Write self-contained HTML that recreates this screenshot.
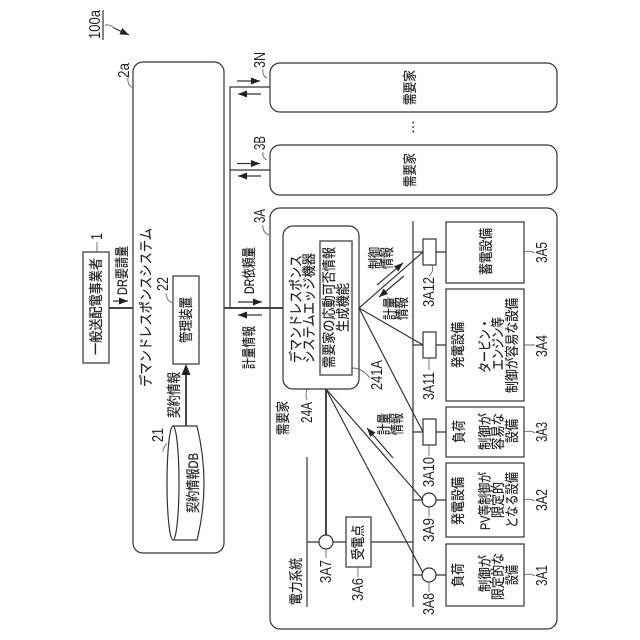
<!DOCTYPE html>
<html lang="ja"><head><meta charset="utf-8"><title>100a</title>
<style>
html,body{margin:0;padding:0;background:#fff;width:640px;height:640px;overflow:hidden}
svg{display:block}
text{font-family:"Liberation Sans","Noto Sans CJK JP",sans-serif;font-size:14px;fill:#222;stroke:#222;stroke-width:.2}
text.l{font-size:16px;stroke-width:0}
.s{fill:none;stroke:#333;stroke-width:1.2}
.t{fill:none;stroke:#444;stroke-width:2}
.f{fill:none;stroke:#666;stroke-width:.9}
</style></head><body>
<svg width="640" height="640" viewBox="0 0 640 640" xmlns="http://www.w3.org/2000/svg">
<defs><marker id="a" markerWidth="10" markerHeight="8" refX="9" refY="3.5" orient="auto" markerUnits="userSpaceOnUse"><path d="M0 0L9 3.5L0 7Z" fill="#222"/></marker></defs>

<!-- main boxes -->
<rect class="s" x="133" y="62" width="91" height="491" rx="10"/>
<rect class="s" x="270" y="63" width="287" height="49" rx="10"/>
<rect class="s" x="270" y="145" width="287" height="50" rx="10"/>
<rect class="s" x="270" y="208" width="287" height="421" rx="10"/>
<rect class="s" x="83" y="252" width="26" height="111" stroke-width="1.5"/>
<rect class="s" x="173" y="276" width="26" height="88" stroke-width="1.5"/>
<rect class="s" x="283" y="226" width="76" height="163" rx="10"/>
<rect class="s" x="320" y="241" width="32" height="134"/>

<!-- cylinder -->
<path class="s" d="M173 426H197Q204 455 204 483Q204 512 197 540H173"/>
<ellipse class="s" cx="173" cy="483" rx="6" ry="57"/>
<path class="t" d="M186 426V372"/>
<path d="M186 364L181.500 375H190.500Z" fill="#222"/>

<!-- connectors -->
<path class="s" d="M270 87H230V308M230 170H270"/>
<path class="t" d="M109 308H133M224 308H283M326 389V535"/>

<path class="s" d="M237 81H260" marker-end="url(#a)"/><path class="s" d="M261 94H238" marker-end="url(#a)"/>
<path class="s" d="M237 163.500H260" marker-end="url(#a)"/><path class="s" d="M261 176H238" marker-end="url(#a)"/>
<path class="s" d="M238 302H262" marker-end="url(#a)"/><path class="s" d="M262 315H238" marker-end="url(#a)"/>
<path class="s" d="M113 301H128" marker-end="url(#a)"/>

<!-- power lines -->
<path class="s" d="M307 457V607M307 542H319M333 542H346M371 542H413"/>
<path class="s" stroke-width="1.500" d="M413 221V607M413 252H423M436 252H446M413 345H423M436 345H446M413 432H423M436 432H446M413 500H422M436 500H446M413 575H422M436 575H446"/>
<circle class="s" cx="326" cy="542" r="7"/>
<circle class="s" cx="429" cy="500" r="7"/>
<circle class="s" cx="429" cy="575" r="7"/>
<rect class="s" x="346" y="517" width="25" height="50" stroke-width="1.500"/>
<rect class="s" x="423" y="239" width="13" height="26"/>
<rect class="s" x="423" y="332" width="13" height="26"/>
<rect class="s" x="423" y="419" width="13" height="26"/>
<rect class="s" x="446" y="222" width="78" height="61" stroke-width="1.500"/>
<rect class="s" x="446" y="289" width="78" height="112" stroke-width="1.500"/>
<rect class="s" x="446" y="407" width="78" height="50" stroke-width="1.500"/>
<rect class="s" x="446" y="463" width="78" height="74" stroke-width="1.500"/>
<rect class="s" x="446" y="544" width="78" height="62" stroke-width="1.500"/>

<!-- diagonals -->
<path class="s" d="M359 308L423 252M359 308L423 345M359 308L423 432M326 389L423 500M326 389L423 573"/>
<path class="s" d="M377 285L403 263" marker-end="url(#a)"/>
<path class="s" d="M404 276L379 297" marker-end="url(#a)"/>
<path class="s" d="M393 458L367 428" marker-end="url(#a)"/>

<!-- leaders -->
<path class="f" d="M105 25Q110 24 114 28"/><path class="s" d="M114 28L129 35" marker-end="url(#a)"/>
<path class="f" d="M134 88Q127 86 128 78M267 78Q262 76 263 69M267 160Q262 158 263 152M269 235Q262 232 263 225M97 252V242M173 303Q167 302 166 293M167 443Q163 448 163 452M352 368Q362 368 370 378M307 389Q305 395 307 400M326 549V558M358 567V577M432 265Q434 272 429 276M429 358V370M429 445V456M429 507V517M429 582V592M524 252Q530 250 535 253M524 345H535M524 432Q530 430 535 433M524 500Q530 498 535 501M524 575Q530 573 535 576"/>
<path class="s" d="M103 10V40"/>

<!-- Latin labels -->
<text class="l" transform="translate(100,39) rotate(-90)" textLength="29" lengthAdjust="spacingAndGlyphs">100a</text>
<text class="l" transform="translate(129,78) rotate(-90)" textLength="15" lengthAdjust="spacingAndGlyphs">2a</text>
<text class="l" transform="translate(265,68) rotate(-90)" textLength="16" lengthAdjust="spacingAndGlyphs">3N</text>
<text class="l" transform="translate(265,150) rotate(-90)" textLength="14" lengthAdjust="spacingAndGlyphs">3B</text>
<text class="l" transform="translate(265,223) rotate(-90)" textLength="14" lengthAdjust="spacingAndGlyphs">3A</text>
<text class="l" transform="translate(102,240) rotate(-90)" textLength="7" lengthAdjust="spacingAndGlyphs">1</text>
<text class="l" transform="translate(168,291) rotate(-90)" textLength="14" lengthAdjust="spacingAndGlyphs">22</text>
<text class="l" transform="translate(163,442) rotate(-90)" textLength="14" lengthAdjust="spacingAndGlyphs">21</text>
<text class="l" transform="translate(312,423) rotate(-90)" textLength="21" lengthAdjust="spacingAndGlyphs">24A</text>
<text class="l" transform="translate(382,390) rotate(-90)" textLength="30" lengthAdjust="spacingAndGlyphs">241A</text>
<text class="l" transform="translate(331,583) rotate(-90)" textLength="23" lengthAdjust="spacingAndGlyphs">3A7</text>
<text class="l" transform="translate(363,601) rotate(-90)" textLength="23" lengthAdjust="spacingAndGlyphs">3A6</text>
<text class="l" transform="translate(434,307) rotate(-90)" textLength="30" lengthAdjust="spacingAndGlyphs">3A12</text>
<text class="l" transform="translate(434,400) rotate(-90)" textLength="28" lengthAdjust="spacingAndGlyphs">3A11</text>
<text class="l" transform="translate(434,487) rotate(-90)" textLength="30" lengthAdjust="spacingAndGlyphs">3A10</text>
<text class="l" transform="translate(434,542) rotate(-90)" textLength="24" lengthAdjust="spacingAndGlyphs">3A9</text>
<text class="l" transform="translate(434,615) rotate(-90)" textLength="22" lengthAdjust="spacingAndGlyphs">3A8</text>
<text class="l" transform="translate(547,263) rotate(-90)" textLength="21" lengthAdjust="spacingAndGlyphs">3A5</text>
<text class="l" transform="translate(547,357) rotate(-90)" textLength="22" lengthAdjust="spacingAndGlyphs">3A4</text>
<text class="l" transform="translate(547,442) rotate(-90)" textLength="20" lengthAdjust="spacingAndGlyphs">3A3</text>
<text class="l" transform="translate(547,511) rotate(-90)" textLength="22" lengthAdjust="spacingAndGlyphs">3A2</text>
<text class="l" transform="translate(547,586) rotate(-90)" textLength="21" lengthAdjust="spacingAndGlyphs">3A1</text>

<!-- Japanese labels -->
<text transform="translate(101,355) rotate(-90)" textLength="97" lengthAdjust="spacingAndGlyphs">一般送配電事業者</text>
<text transform="translate(127,295) rotate(-90)" textLength="49" lengthAdjust="spacingAndGlyphs">DR要請量</text>
<text transform="translate(151,387) rotate(-90)" textLength="159" lengthAdjust="spacingAndGlyphs">デマンドレスポンスシステム</text>
<text transform="translate(191,343) rotate(-90)" textLength="46" lengthAdjust="spacingAndGlyphs">管理装置</text>
<text transform="translate(179,418) rotate(-90)" textLength="46" lengthAdjust="spacingAndGlyphs">契約情報</text>
<text transform="translate(198,513) rotate(-90)" textLength="60" lengthAdjust="spacingAndGlyphs">契約情報DB</text>
<text transform="translate(254,294) rotate(-90)" textLength="47" lengthAdjust="spacingAndGlyphs">DR依頼量</text>
<text transform="translate(254,369) rotate(-90)" textLength="43" lengthAdjust="spacingAndGlyphs">計量情報</text>
<text transform="translate(415,187) rotate(-90)" textLength="34" lengthAdjust="spacingAndGlyphs">需要家</text>
<text transform="translate(415,105) rotate(-90)" textLength="35" lengthAdjust="spacingAndGlyphs">需要家</text>
<text transform="translate(288,435) rotate(-90)" textLength="34" lengthAdjust="spacingAndGlyphs">需要家</text>
<text transform="translate(301,605) rotate(-90)" textLength="47" lengthAdjust="spacingAndGlyphs">電力系統</text>
<text transform="translate(301,363) rotate(-90)" textLength="108" lengthAdjust="spacingAndGlyphs">デマンドレスポンス</text>
<text transform="translate(314,363) rotate(-90)" textLength="110" lengthAdjust="spacingAndGlyphs">システムエッジ機器</text>
<text transform="translate(334,368) rotate(-90)" textLength="121" lengthAdjust="spacingAndGlyphs">需要家の応動可否情報</text>
<text transform="translate(348,332) rotate(-90)" textLength="49" lengthAdjust="spacingAndGlyphs">生成機能</text>
<text transform="translate(380,269) rotate(-90)" textLength="22" lengthAdjust="spacingAndGlyphs">制御</text>
<text transform="translate(392,269) rotate(-90)" textLength="22" lengthAdjust="spacingAndGlyphs">情報</text>
<text transform="translate(395,320) rotate(-90)" textLength="23" lengthAdjust="spacingAndGlyphs">計量</text>
<text transform="translate(407,320) rotate(-90)" textLength="23" lengthAdjust="spacingAndGlyphs">情報</text>
<text transform="translate(389,435) rotate(-90)" textLength="22" lengthAdjust="spacingAndGlyphs">計量</text>
<text transform="translate(402,435) rotate(-90)" textLength="22" lengthAdjust="spacingAndGlyphs">情報</text>
<text transform="translate(363,560) rotate(-90)" textLength="35" lengthAdjust="spacingAndGlyphs">受電点</text>

<text transform="translate(491,275) rotate(-90)" textLength="47" lengthAdjust="spacingAndGlyphs">蓄電設備</text>
<text transform="translate(463,368) rotate(-90)" textLength="46" lengthAdjust="spacingAndGlyphs">発電設備</text>
<text transform="translate(490,373) rotate(-90)" textLength="55" lengthAdjust="spacingAndGlyphs">タービン・</text>
<text transform="translate(503,370) rotate(-90)" textLength="53" lengthAdjust="spacingAndGlyphs">エンジン等</text>
<text transform="translate(517,393) rotate(-90)" textLength="95" lengthAdjust="spacingAndGlyphs">制御が容易な設備</text>
<text transform="translate(464,443) rotate(-90)" textLength="23" lengthAdjust="spacingAndGlyphs">負荷</text>
<text transform="translate(490,450) rotate(-90)" textLength="37" lengthAdjust="spacingAndGlyphs">制御が</text>
<text transform="translate(503,450) rotate(-90)" textLength="37" lengthAdjust="spacingAndGlyphs">容易な</text>
<text transform="translate(517,443) rotate(-90)" textLength="24" lengthAdjust="spacingAndGlyphs">設備</text>
<text transform="translate(463,525) rotate(-90)" textLength="48" lengthAdjust="spacingAndGlyphs">発電設備</text>
<text transform="translate(490,530) rotate(-90)" textLength="58" lengthAdjust="spacingAndGlyphs">PV等制御が</text>
<text transform="translate(503,518) rotate(-90)" textLength="36" lengthAdjust="spacingAndGlyphs">限定的</text>
<text transform="translate(517,528) rotate(-90)" textLength="56" lengthAdjust="spacingAndGlyphs">となる設備</text>
<text transform="translate(463,587) rotate(-90)" textLength="24" lengthAdjust="spacingAndGlyphs">負荷</text>
<text transform="translate(490,592) rotate(-90)" textLength="37" lengthAdjust="spacingAndGlyphs">制御が</text>
<text transform="translate(503,600) rotate(-90)" textLength="47" lengthAdjust="spacingAndGlyphs">限定的な</text>
<text transform="translate(517,585) rotate(-90)" textLength="20" lengthAdjust="spacingAndGlyphs">設備</text>

<text transform="translate(414,134) rotate(-90)" textLength="12" lengthAdjust="spacing">…</text>
</svg>
</body></html>
